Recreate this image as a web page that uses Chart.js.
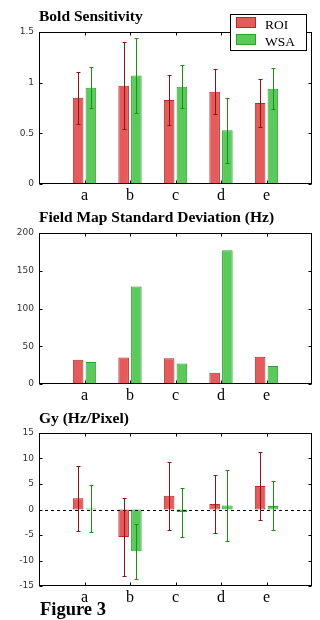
<!DOCTYPE html>
<html>
<head>
<meta charset="utf-8">
<script src="https://cdn.jsdelivr.net/npm/chart.js@4.4.1/dist/chart.umd.min.js"></script>
<style>
  html, body { margin: 0; padding: 0; background: #fff; }
  #page { position: relative; width: 320px; height: 620px; overflow: hidden; }
  canvas { position: absolute; left: 0; }
  .title { position: absolute; left: 39px; font: bold 15.5px "Liberation Serif", serif; line-height: 16px; color: #000; white-space: nowrap; }
  #fig { position: absolute; left: 40px; top: 600px; font: bold 18.5px "Liberation Serif", serif; line-height: 19px; white-space: nowrap; }
  #legend { position: absolute; left: 230px; top: 14px; width: 75px; height: 35px; border: 1px solid #000; background: #fff; }
  .sw { position: absolute; left: 5px; width: 20px; height: 11px; box-sizing: border-box; border: 1px solid; }
  .lbl { position: absolute; left: 34px; font: 13.5px "Liberation Serif", serif; line-height: 14px; }
</style>
</head>
<body>
<div id="page">
  <canvas id="c1" width="320" height="200" style="top:0"></canvas>
  <canvas id="c2" width="320" height="200" style="top:200px"></canvas>
  <canvas id="c3" width="320" height="220" style="top:400px"></canvas>

  <div class="title" style="top:8px">Bold Sensitivity</div>
  <div class="title" style="top:209px">Field Map Standard Deviation (Hz)</div>
  <div class="title" style="top:410px">Gy (Hz/Pixel)</div>
  <div id="fig">Figure 3</div>

  <div id="legend">
    <div class="sw" style="top:2px; background:#e35b5b; border-color:#b22a2a"></div>
    <div class="lbl" style="top:3px">ROI</div>
    <div class="sw" style="top:19px; background:#5bc95b; border-color:#2ea02e"></div>
    <div class="lbl" style="top:20px">WSA</div>
  </div>
</div>

<script>
const CATS = ['a', 'b', 'c', 'd', 'e'];

// Bold sensitivity
const BOLD_ROI     = [0.85, 0.97, 0.83, 0.91, 0.80];
const BOLD_ROI_ERR = [0.26, 0.43, 0.25, 0.22, 0.24];
const BOLD_WSA     = [0.95, 1.07, 0.96, 0.53, 0.94];
const BOLD_WSA_ERR = [0.20, 0.37, 0.21, 0.32, 0.20];

// Field map standard deviation (Hz)
const FMSD_ROI = [32, 35, 34, 15, 36];
const FMSD_WSA = [29, 129, 27, 177, 24];

// Gy (Hz/Pixel)
const GY_ROI     = [2.2, -5.4, 2.7, 1.1, 4.6];
const GY_ROI_ERR = [6.4, 7.7, 6.7, 5.7, 6.7];
const GY_WSA     = [0.2, -8.2, -0.5, 0.8, 0.7];
const GY_WSA_ERR = [4.7, 5.4, 4.8, 6.9, 4.8];

const RED    = '#e35b5b', RED_EDGE   = '#b22a2a', RED_ERR   = '#8b1414';
const GREEN  = '#5bc95b', GREEN_EDGE = '#2ea02e', GREEN_ERR = '#159315';

// blank slots at both ends so a..e sit on 1..5 of 0..6
const pad = arr => [null, ...arr, null];
const XLABELS = pad(CATS).map(v => v || '');

Chart.defaults.font.family = 'DejaVu Sans';

// box, inward ticks, dashed zero line and error bars
const framePlugin = {
  id: 'frame',
  afterDatasetsDraw(chart, args, opts) {
    const { ctx, chartArea: a, scales: { x, y } } = chart;
    ctx.save();
    ctx.lineWidth = 1;

    if (opts.zeroLine) {
      const y0 = Math.round(y.getPixelForValue(0)) + 0.5;
      ctx.strokeStyle = '#000';
      ctx.setLineDash([3, 3]);
      ctx.beginPath(); ctx.moveTo(a.left, y0); ctx.lineTo(a.right, y0); ctx.stroke();
      ctx.setLineDash([]);
    }

    chart.data.datasets.forEach((ds, di) => {
      if (!ds.errors) return;
      const meta = chart.getDatasetMeta(di);
      ctx.strokeStyle = ds.errColor;
      meta.data.forEach((bar, i) => {
        const v = ds.data[i], e = ds.errors[i];
        if (v == null || e == null) return;
        const bx = Math.round(bar.x) + 0.5;
        const hi = Math.round(y.getPixelForValue(v + e)) + 0.5;
        const lo = Math.round(y.getPixelForValue(v - e)) + 0.5;
        ctx.beginPath();
        ctx.moveTo(bx, hi); ctx.lineTo(bx, lo);
        ctx.moveTo(bx - 2, hi); ctx.lineTo(bx + 2, hi);
        ctx.moveTo(bx - 2, lo); ctx.lineTo(bx + 2, lo);
        ctx.stroke();
      });
    });

    ctx.strokeStyle = '#000';
    const L = a.left + 0.5, R = a.right - 0.5, T = a.top + 0.5, B = a.bottom - 0.5;
    ctx.strokeRect(L, T, R - L, B - T);
    ctx.beginPath();
    y.ticks.forEach(t => {
      const py = Math.round(y.getPixelForValue(t.value)) + 0.5;
      ctx.moveTo(L, py); ctx.lineTo(L + 3, py);
      ctx.moveTo(R, py); ctx.lineTo(R - 3, py);
    });
    CATS.forEach((c, i) => {
      const px = Math.round(x.getPixelForValue(i + 1)) + 0.5;
      ctx.moveTo(px, B); ctx.lineTo(px, B - 3);
      ctx.moveTo(px, T); ctx.lineTo(px, T + 3);
    });
    ctx.stroke();
    ctx.restore();
  }
};

function makeChart(id, cfg) {
  return new Chart(document.getElementById(id), {
    type: 'bar',
    data: {
      labels: XLABELS,
      datasets: [
        { data: pad(cfg.roi), errors: cfg.roiErr && pad(cfg.roiErr), errColor: RED_ERR,
          backgroundColor: RED, borderColor: RED_EDGE },
        { data: pad(cfg.wsa), errors: cfg.wsaErr && pad(cfg.wsaErr), errColor: GREEN_ERR,
          backgroundColor: GREEN, borderColor: GREEN_EDGE },
      ]
    },
    options: {
      responsive: false,
      animation: false,
      layout: { padding: { top: cfg.padTop, right: 8, left: 0, bottom: 0 } },
      datasets: { bar: { borderWidth: 1, borderSkipped: false, categoryPercentage: 0.56, barPercentage: 0.83 } },
      plugins: { legend: { display: false }, tooltip: { enabled: false }, frame: { zeroLine: cfg.zeroLine } },
      scales: {
        x: {
          offset: false,
          grid: { display: false, drawTicks: false },
          border: { display: false },
          ticks: { autoSkip: false, maxRotation: 0, padding: 2, color: '#000',
                   font: { family: 'Liberation Serif', size: 16 } },
          afterFit: s => { s.height = cfg.axisH; }
        },
        y: {
          min: cfg.min, max: cfg.max,
          grid: { display: false, drawTicks: false },
          border: { display: false },
          ticks: { stepSize: cfg.step, padding: 5, color: '#333', font: { size: 9 },
                   callback: v => String(v) },
          afterFit: s => { s.width = 39; }
        }
      }
    },
    plugins: [framePlugin]
  });
}

makeChart('c1', { roi: BOLD_ROI, wsa: BOLD_WSA, roiErr: BOLD_ROI_ERR, wsaErr: BOLD_WSA_ERR,
                  min: 0, max: 1.5, step: 0.5, padTop: 32, axisH: 16 });
makeChart('c2', { roi: FMSD_ROI, wsa: FMSD_WSA,
                  min: 0, max: 200, step: 50, padTop: 33, axisH: 16 });
makeChart('c3', { roi: GY_ROI, wsa: GY_WSA, roiErr: GY_ROI_ERR, wsaErr: GY_WSA_ERR,
                  min: -15, max: 15, step: 5, padTop: 33, axisH: 34, zeroLine: true });
</script>
</body>
</html>
